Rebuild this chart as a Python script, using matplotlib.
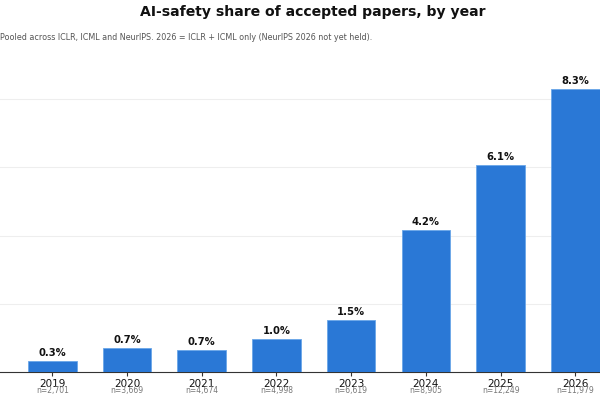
import matplotlib.pyplot as plt

years = ["2019", "2020", "2021", "2022", "2023", "2024", "2025", "2026"]
share = [0.32, 0.70, 0.66, 0.96, 1.52, 4.18, 6.07, 8.30]
n_papers = ["2,701", "3,669", "4,674", "4,998", "6,619", "8,905", "12,249", "11,979"]

fig = plt.figure(figsize=(6, 4), dpi=100)
ax = fig.add_axes([0.0, 0.07, 1.0, 0.7925])

x = list(range(len(years)))
bars = ax.bar(x, share, width=0.65, color="#2a78d6", edgecolor="#6aa6e8", linewidth=0.6, zorder=3)

# value labels above bars
for xi, v in zip(x, share):
    ax.annotate(f"{v:.1f}%", (xi, v), xytext=(0, 2), textcoords="offset points",
                ha="center", va="bottom", fontsize=7.2, fontweight="bold", color="#111111")

ax.set_xlim(-0.7, 7.33)
ax.set_ylim(0, 9.3)
ax.set_yticks([2, 4, 6, 8])
ax.set_yticklabels([])
ax.tick_params(axis="y", length=0)
ax.grid(axis="y", color="#eeeeee", linewidth=0.8, zorder=0)

ax.set_xticks(x)
ax.set_xticklabels(years, fontsize=7.5, color="#111111")
ax.tick_params(axis="x", length=3, pad=2, color="#333333")

# paper counts squeezed under the year labels
for xi, n in zip(x, n_papers):
    ax.annotate(f"n={n}", (xi, 0), xytext=(0, -10), textcoords="offset points",
                ha="center", va="top", fontsize=5.5, color="#777777")

for side in ["left", "top", "right"]:
    ax.spines[side].set_visible(False)
ax.spines["bottom"].set_color("#333333")

fig.text(313 / 600, 1 - 12 / 400, "AI-safety share of accepted papers, by year",
         ha="center", va="center", fontsize=10.1, fontweight="bold", color="#111111")
fig.text(0.0, 1 - 37 / 400,
         "Pooled across ICLR, ICML and NeurIPS. 2026 = ICLR + ICML only (NeurIPS 2026 not yet held).",
         ha="left", va="center", fontsize=5.8, color="#555555")

fig.savefig("out.png", dpi=100)
